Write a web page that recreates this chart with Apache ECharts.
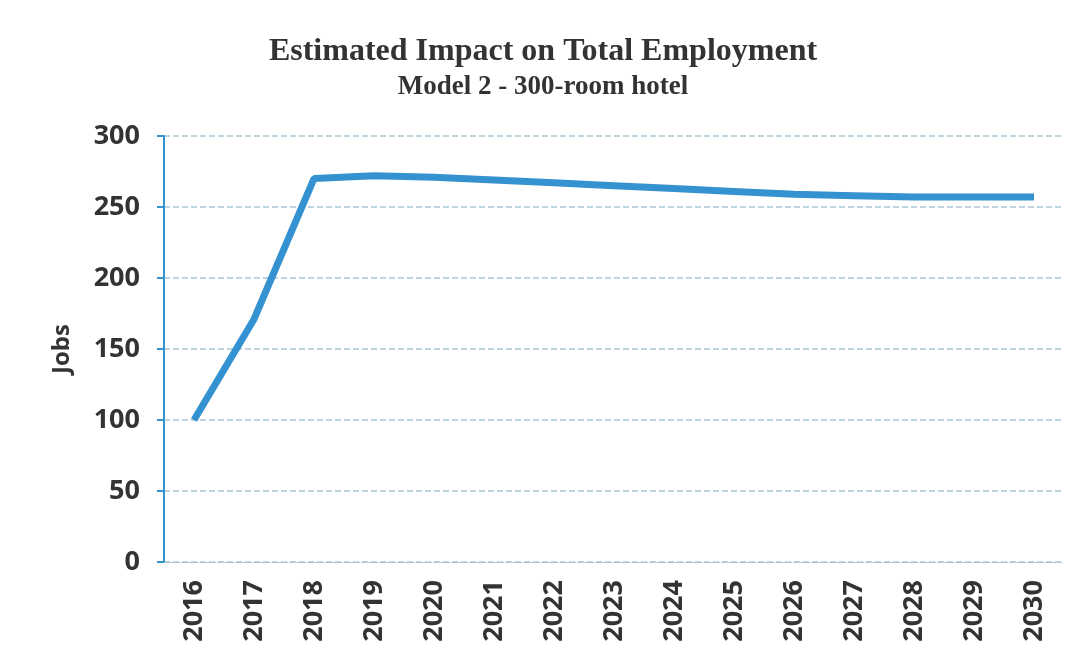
<!DOCTYPE html>
<html>
<head>
<meta charset="utf-8">
<script src="https://cdn.jsdelivr.net/npm/echarts@6/dist/echarts.min.js"></script>
<style>
  html, body { margin: 0; padding: 0; background: #ffffff; }
  #chart { width: 1086px; height: 661px; }
</style>
</head>
<body>
<div id="chart"></div>
<script>
// Years along the horizontal axis
const years = ['2016', '2017', '2018', '2019', '2020', '2021', '2022', '2023',
               '2024', '2025', '2026', '2027', '2028', '2029', '2030'];
// Estimated total jobs per year
const jobs = [100, 171, 270, 272, 271, 269, 267, 265, 263, 261, 259, 258, 257, 257, 257];
// Vertical axis range
const yTicks = [0, 50, 100, 150, 200, 250, 300];

const chart = echarts.init(document.getElementById('chart'));
chart.setOption({
  backgroundColor: '#ffffff',
  title: {
    text: 'Estimated Impact on Total Employment',
    subtext: 'Model 2 - 300-room hotel',
    left: 'center',
    top: 31,
    itemGap: 6,
    textStyle: { fontFamily: 'Liberation Serif', fontWeight: 'bold', fontSize: 32, color: '#333333' },
    subtextStyle: { fontFamily: 'Liberation Serif', fontWeight: 'bold', fontSize: 27, color: '#333333' }
  },
  grid: { left: 164, right: 22, top: 136, bottom: 99 },
  xAxis: {
    type: 'category',
    data: years,
    boundaryGap: true,
    axisLine: { show: true, lineStyle: { color: '#b8c4cc', type: 'dashed', width: 1 } },
    axisTick: { show: false },
    axisLabel: {
      rotate: 90,
      margin: 18,
      fontFamily: 'Open Sans',
      fontWeight: 'bold',
      fontSize: 27,
      color: '#333333'
    }
  },
  yAxis: {
    type: 'value',
    min: yTicks[0],
    max: yTicks[yTicks.length - 1],
    interval: 50,
    name: 'Jobs',
    nameLocation: 'middle',
    nameGap: 90,
    nameRotate: 90,
    nameTextStyle: { fontFamily: 'Open Sans', fontWeight: 'bold', fontSize: 24, color: '#333333' },
    axisLine: { show: true, lineStyle: { color: '#3592d0', width: 2 } },
    axisTick: { show: true, length: 7, inside: false, lineStyle: { color: '#3592d0', width: 2 } },
    axisLabel: {
      margin: 24,
      fontFamily: 'Open Sans',
      fontWeight: 'bold',
      fontSize: 27,
      color: '#333333'
    },
    splitLine: { show: true, lineStyle: { color: '#a9c6d8', type: 'dashed', width: 1.5 } }
  },
  series: [{
    type: 'line',
    data: jobs,
    symbol: 'none',
    smooth: false,
    lineStyle: { color: '#3592d0', width: 7 },
    itemStyle: { color: '#3592d0' }
  }]
});
</script>
</body>
</html>
